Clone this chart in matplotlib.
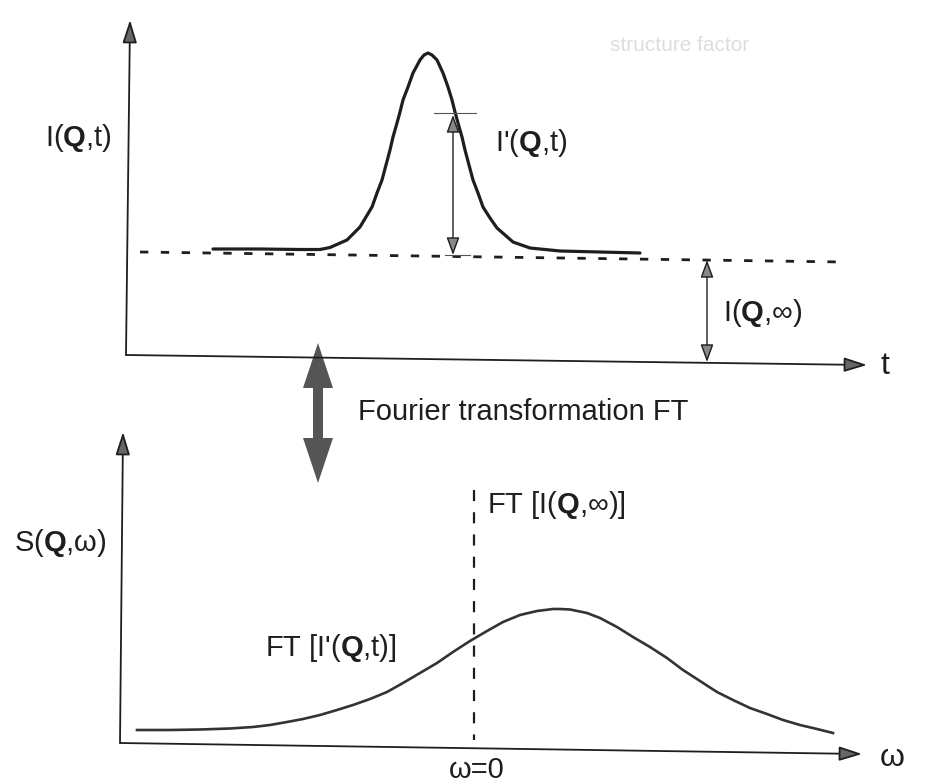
import matplotlib
matplotlib.use("Agg")
import matplotlib.pyplot as plt

plt.rcParams['font.family'] = ['Liberation Sans', 'DejaVu Sans']
plt.rcParams['mathtext.fontset'] = 'custom'
plt.rcParams['mathtext.rm'] = 'Liberation Sans'
plt.rcParams['mathtext.bf'] = 'Liberation Sans:bold'

# everything is in picture pixels (x right, y down)
# top panel: intensity I(Q,t) versus t
t_sig = [213, 260, 300, 320, 330, 347, 360, 366, 372, 377, 382, 386, 390, 393, 397,
         400, 403, 408, 413, 420, 424, 428, 432, 437, 443, 448, 452, 455, 458, 462,
         465, 469, 473, 478, 483, 490, 497, 513, 530, 560, 600, 640]
I_sig = [249, 249, 249.5, 249.5, 247.5, 240, 227, 217, 207, 193, 180, 165, 150, 137, 123,
         112, 100, 87, 73, 60, 55, 53, 55, 60, 73, 87, 100, 112, 123, 137,
         150, 165, 180, 193, 207, 218, 228, 242, 248, 251, 252, 253]
I_inf_line = ([140, 843], [252, 262])
top_origin = (126, 355)
top_y_tip = (130, 20)
top_x_tip = (867, 365)
Iprime_arrow = (453, 115, 255)     # x, top, bottom
Iinf_arrow = (707, 260, 362)

# bottom panel: S(Q,w) versus w
w_spec = [137, 170, 200, 230, 253, 270, 287, 303, 320, 337, 353, 370, 387, 403, 420,
          437, 453, 470, 487, 503, 520, 537, 553, 560, 570, 587, 600, 617, 633, 650,
          667, 683, 700, 717, 733, 750, 767, 783, 800, 817, 833]
S_spec = [730, 730, 729.5, 728.5, 727, 725, 722, 719, 715, 710, 705, 699, 692, 683, 673,
          663, 652, 641, 631, 622, 615, 611, 609, 609, 609.5, 613, 618, 627, 637, 647,
          658, 670, 681, 692, 700, 708, 714, 720, 725, 729, 733]
w_zero = ([474, 474], [490, 740])
bot_origin = (120, 743)
bot_y_tip = (123, 432)
bot_x_tip = (862, 754)
ft_arrow = (318, 413, 70)          # x, centre, half length

fig = plt.figure(figsize=(9.3, 7.84), dpi=100)
ax = fig.add_axes([0, 0, 1, 1])
ax.set_xlim(0, 930)
ax.set_ylim(784, 0)
ax.axis('off')

ink = '#1e1e1e'
fs = 21


def axis_arrow(start, tip):
    ax.annotate('', xy=tip, xytext=start,
                arrowprops=dict(arrowstyle='-|>,head_length=0.7,head_width=0.22',
                                mutation_scale=20, lw=1.3, color=ink,
                                fc='#666666', shrinkA=0, shrinkB=0))


def double_arrow(x, y0, y1):
    ax.annotate('', xy=(x, y0), xytext=(x, y1),
                arrowprops=dict(arrowstyle='<|-|>,head_length=0.6,head_width=0.22',
                                mutation_scale=18, lw=1.0, color=ink,
                                fc='#888888', shrinkA=0, shrinkB=0))


# top panel
axis_arrow(top_origin, top_y_tip)
axis_arrow(top_origin, top_x_tip)
ax.plot(*I_inf_line, color=ink, lw=2, linestyle=(0, (3, 4.5)))
ax.plot(t_sig, I_sig, color=ink, lw=2.3, solid_joinstyle='round', solid_capstyle='round')
double_arrow(*Iprime_arrow)
ax.plot([434, 476], [113, 113], color='#555555', lw=0.8)
ax.plot([445, 470], [255, 255], color='#555555', lw=0.8)
double_arrow(*Iinf_arrow)

ax.text(78, 138, r'I($\mathbf{Q}$,t)', fontsize=fs, ha='center', va='center', color=ink)
ax.text(495, 143, r"I'($\mathbf{Q}$,t)", fontsize=fs, ha='left', va='center', color=ink)
ax.text(723, 313, r'I($\mathbf{Q}$,∞)', fontsize=fs, ha='left', va='center', color=ink)
ax.text(880, 366, 't', fontsize=fs + 2, ha='left', va='center', color=ink)

# Fourier transformation arrow
x, yc, half = ft_arrow
for d in (-half, half):
    ax.arrow(x, yc, 0, d, width=10, head_width=30, head_length=45,
             length_includes_head=True, fc='#555555', ec='none', lw=0)
ax.text(358, 412, 'Fourier transformation FT', fontsize=fs, ha='left', va='center', color=ink)

# bottom panel
axis_arrow(bot_origin, bot_y_tip)
axis_arrow(bot_origin, bot_x_tip)
ax.plot(*w_zero, color=ink, lw=1.6, linestyle=(0, (5, 5)))
ax.plot(w_spec, S_spec, color='#333333', lw=1.9, solid_joinstyle='round')

ax.text(107, 543, r'S($\mathbf{Q}$,ω)', fontsize=fs, ha='right', va='center', color=ink)
ax.text(487, 505, r'FT [I($\mathbf{Q}$,∞)]', fontsize=fs, ha='left', va='center', color=ink)
ax.text(265, 648, r"FT [I'($\mathbf{Q}$,t)]", fontsize=fs, ha='left', va='center', color=ink)
ax.text(477, 778, 'ω=0', fontsize=fs, ha='center', va='baseline', color=ink)
ax.text(880, 758, 'ω', fontsize=fs + 2, ha='left', va='center', color=ink)

# faint show-through from the back of the scanned page
ax.text(610, 45, 'structure factor', fontsize=15, ha='left', va='center', color='#dddddd')

fig.savefig('out.png', dpi=100)
